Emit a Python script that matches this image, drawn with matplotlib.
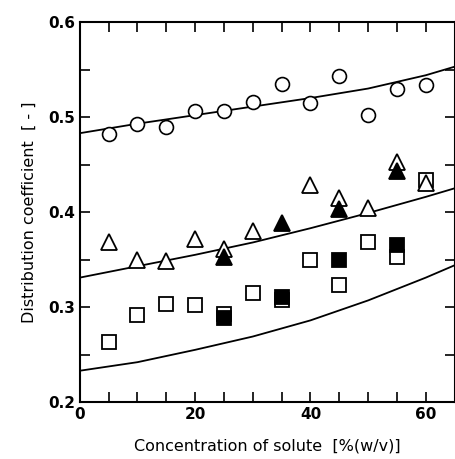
import matplotlib
matplotlib.use("Agg")
import matplotlib.pyplot as plt
import numpy as np
from matplotlib.ticker import MultipleLocator

plt.rcParams['font.family'] = ['DejaVu Sans']

x_circle = [5, 10, 15, 20, 25, 30, 35, 40, 45, 50, 55, 60]
y_circle = [0.482, 0.493, 0.489, 0.506, 0.506, 0.516, 0.535, 0.515, 0.543, 0.502, 0.529, 0.534]

x_tri_open = [5, 10, 15, 20, 25, 30, 40, 45, 50, 55, 60]
y_tri_open = [0.369, 0.350, 0.348, 0.372, 0.361, 0.380, 0.428, 0.415, 0.404, 0.453, 0.431]

x_tri_fill = [25, 35, 45, 55]
y_tri_fill = [0.353, 0.389, 0.403, 0.443]

x_sq_open = [5, 10, 15, 20, 25, 30, 35, 40, 45, 50, 55, 60]
y_sq_open = [0.263, 0.292, 0.303, 0.302, 0.293, 0.315, 0.307, 0.350, 0.323, 0.369, 0.353, 0.434]

x_sq_fill = [25, 35, 45, 55]
y_sq_fill = [0.289, 0.311, 0.350, 0.365]

# calculated curves
x_line = [0, 10, 20, 30, 40, 50, 60, 65]
y_line_top = [0.483, 0.493, 0.502, 0.511, 0.520, 0.530, 0.544, 0.553]
y_line_mid = [0.331, 0.343, 0.355, 0.368, 0.383, 0.399, 0.416, 0.425]
y_line_low = [0.233, 0.242, 0.255, 0.269, 0.286, 0.307, 0.331, 0.344]

fig = plt.figure(figsize=(4.56, 4.59), dpi=100)
ax = fig.add_axes([0.175, 0.124, 0.822, 0.828])

for yl in (y_line_top, y_line_mid, y_line_low):
    ax.plot(x_line, yl, color='black', lw=1.3)

ms = 10
ax.plot(x_circle, y_circle, 'o', ms=ms, mfc='white', mec='black', mew=1.2)
ax.plot(x_sq_open, y_sq_open, 's', ms=ms - 0.5, mfc='white', mec='black', mew=1.3)
ax.plot(x_sq_fill, y_sq_fill, 's', ms=ms - 0.5, mfc='black', mec='black', mew=1.3)
ax.plot(x_tri_open, y_tri_open, '^', ms=ms + 1, mfc='white', mec='black', mew=1.3)
ax.plot(x_tri_fill, y_tri_fill, '^', ms=ms + 1, mfc='black', mec='black', mew=1.3)

ax.set_xlim(0, 65)
ax.set_ylim(0.2, 0.6)
ax.xaxis.set_major_locator(MultipleLocator(20))
ax.xaxis.set_minor_locator(MultipleLocator(5))
ax.yaxis.set_major_locator(MultipleLocator(0.1))
ax.yaxis.set_minor_locator(MultipleLocator(0.05))
ax.tick_params(which='both', direction='in', top=True, right=True, width=1.2)
ax.tick_params(which='major', length=7, labelsize=11)
ax.tick_params(which='minor', length=7)
for lbl in ax.get_xticklabels() + ax.get_yticklabels():
    lbl.set_fontweight('bold')
for s in ax.spines.values():
    s.set_linewidth(1.5)

ax.set_xlabel("Concentration of solute  [%(w/v)]", fontsize=11.5, labelpad=12)
ax.set_ylabel("Distribution coefficient  [ - ]", fontsize=11.5, labelpad=8)

fig.savefig("out.png", dpi=100)
